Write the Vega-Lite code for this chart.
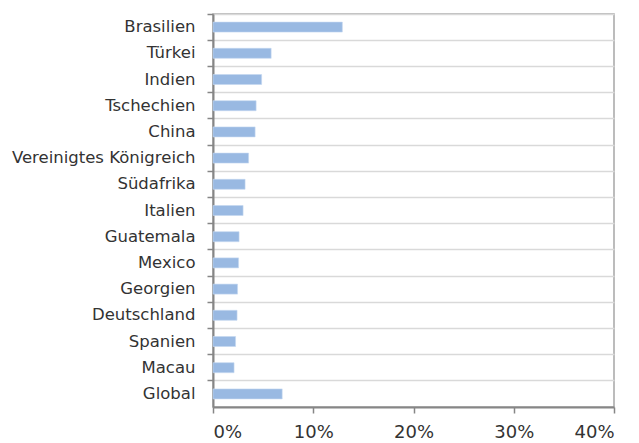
{
  "$schema": "https://vega.github.io/schema/vega-lite/v6.json",
  "autosize": {"type": "none"},
  "padding": {"left": 213, "top": 14, "right": 25, "bottom": 36},
  "width": 401,
  "height": 393,
  "background": "white",
  "config": {
    "view": {"stroke": "#a6a6a6", "strokeWidth": 1.5},
    "font": "DejaVu Sans"
  },
  "data": {
    "values": [
      {"land": "Brasilien", "wert": 0.129},
      {"land": "Türkei", "wert": 0.058},
      {"land": "Indien", "wert": 0.0485},
      {"land": "Tschechien", "wert": 0.043},
      {"land": "China", "wert": 0.042},
      {"land": "Vereinigtes Königreich", "wert": 0.0355},
      {"land": "Südafrika", "wert": 0.032},
      {"land": "Italien", "wert": 0.030},
      {"land": "Guatemala", "wert": 0.026},
      {"land": "Mexico", "wert": 0.0255},
      {"land": "Georgien", "wert": 0.0245},
      {"land": "Deutschland", "wert": 0.024},
      {"land": "Spanien", "wert": 0.0225},
      {"land": "Macau", "wert": 0.021},
      {"land": "Global", "wert": 0.069}
    ]
  },
  "mark": {"type": "bar", "color": "#99b9e2", "size": 10, "stroke": "#c4d7f0", "strokeWidth": 0.6},
  "encoding": {
    "y": {
      "field": "land",
      "type": "nominal",
      "sort": null,
      "title": null,
      "scale": {"paddingInner": 0, "paddingOuter": 0},
      "axis": {
        "bandPosition": 0,
        "grid": true,
        "gridColor": "#d9d9d9",
        "gridWidth": 1.5,
        "domainColor": "#868686",
        "domainWidth": 2,
        "tickColor": "#868686",
        "tickWidth": 1.5,
        "tickSize": 6,
        "labelFontSize": 16.5,
        "labelColor": "#333333",
        "labelPadding": 12,
        "labelLimit": 300,
        "labelFont": "DejaVu Sans",
        "labelFontWeight": "normal"
      }
    },
    "x": {
      "field": "wert",
      "type": "quantitative",
      "title": null,
      "scale": {"domain": [0, 0.4], "nice": false},
      "axis": {
        "values": [0, 0.1, 0.2, 0.3, 0.4],
        "format": ".0%",
        "grid": false,
        "domainColor": "#868686",
        "domainWidth": 2,
        "tickColor": "#868686",
        "tickWidth": 1.5,
        "tickSize": 6,
        "labelFontSize": 18,
        "labelColor": "#333333",
        "labelPadding": 10,
        "labelFont": "DejaVu Sans",
        "labelFontWeight": "normal"
      }
    }
  }
}
